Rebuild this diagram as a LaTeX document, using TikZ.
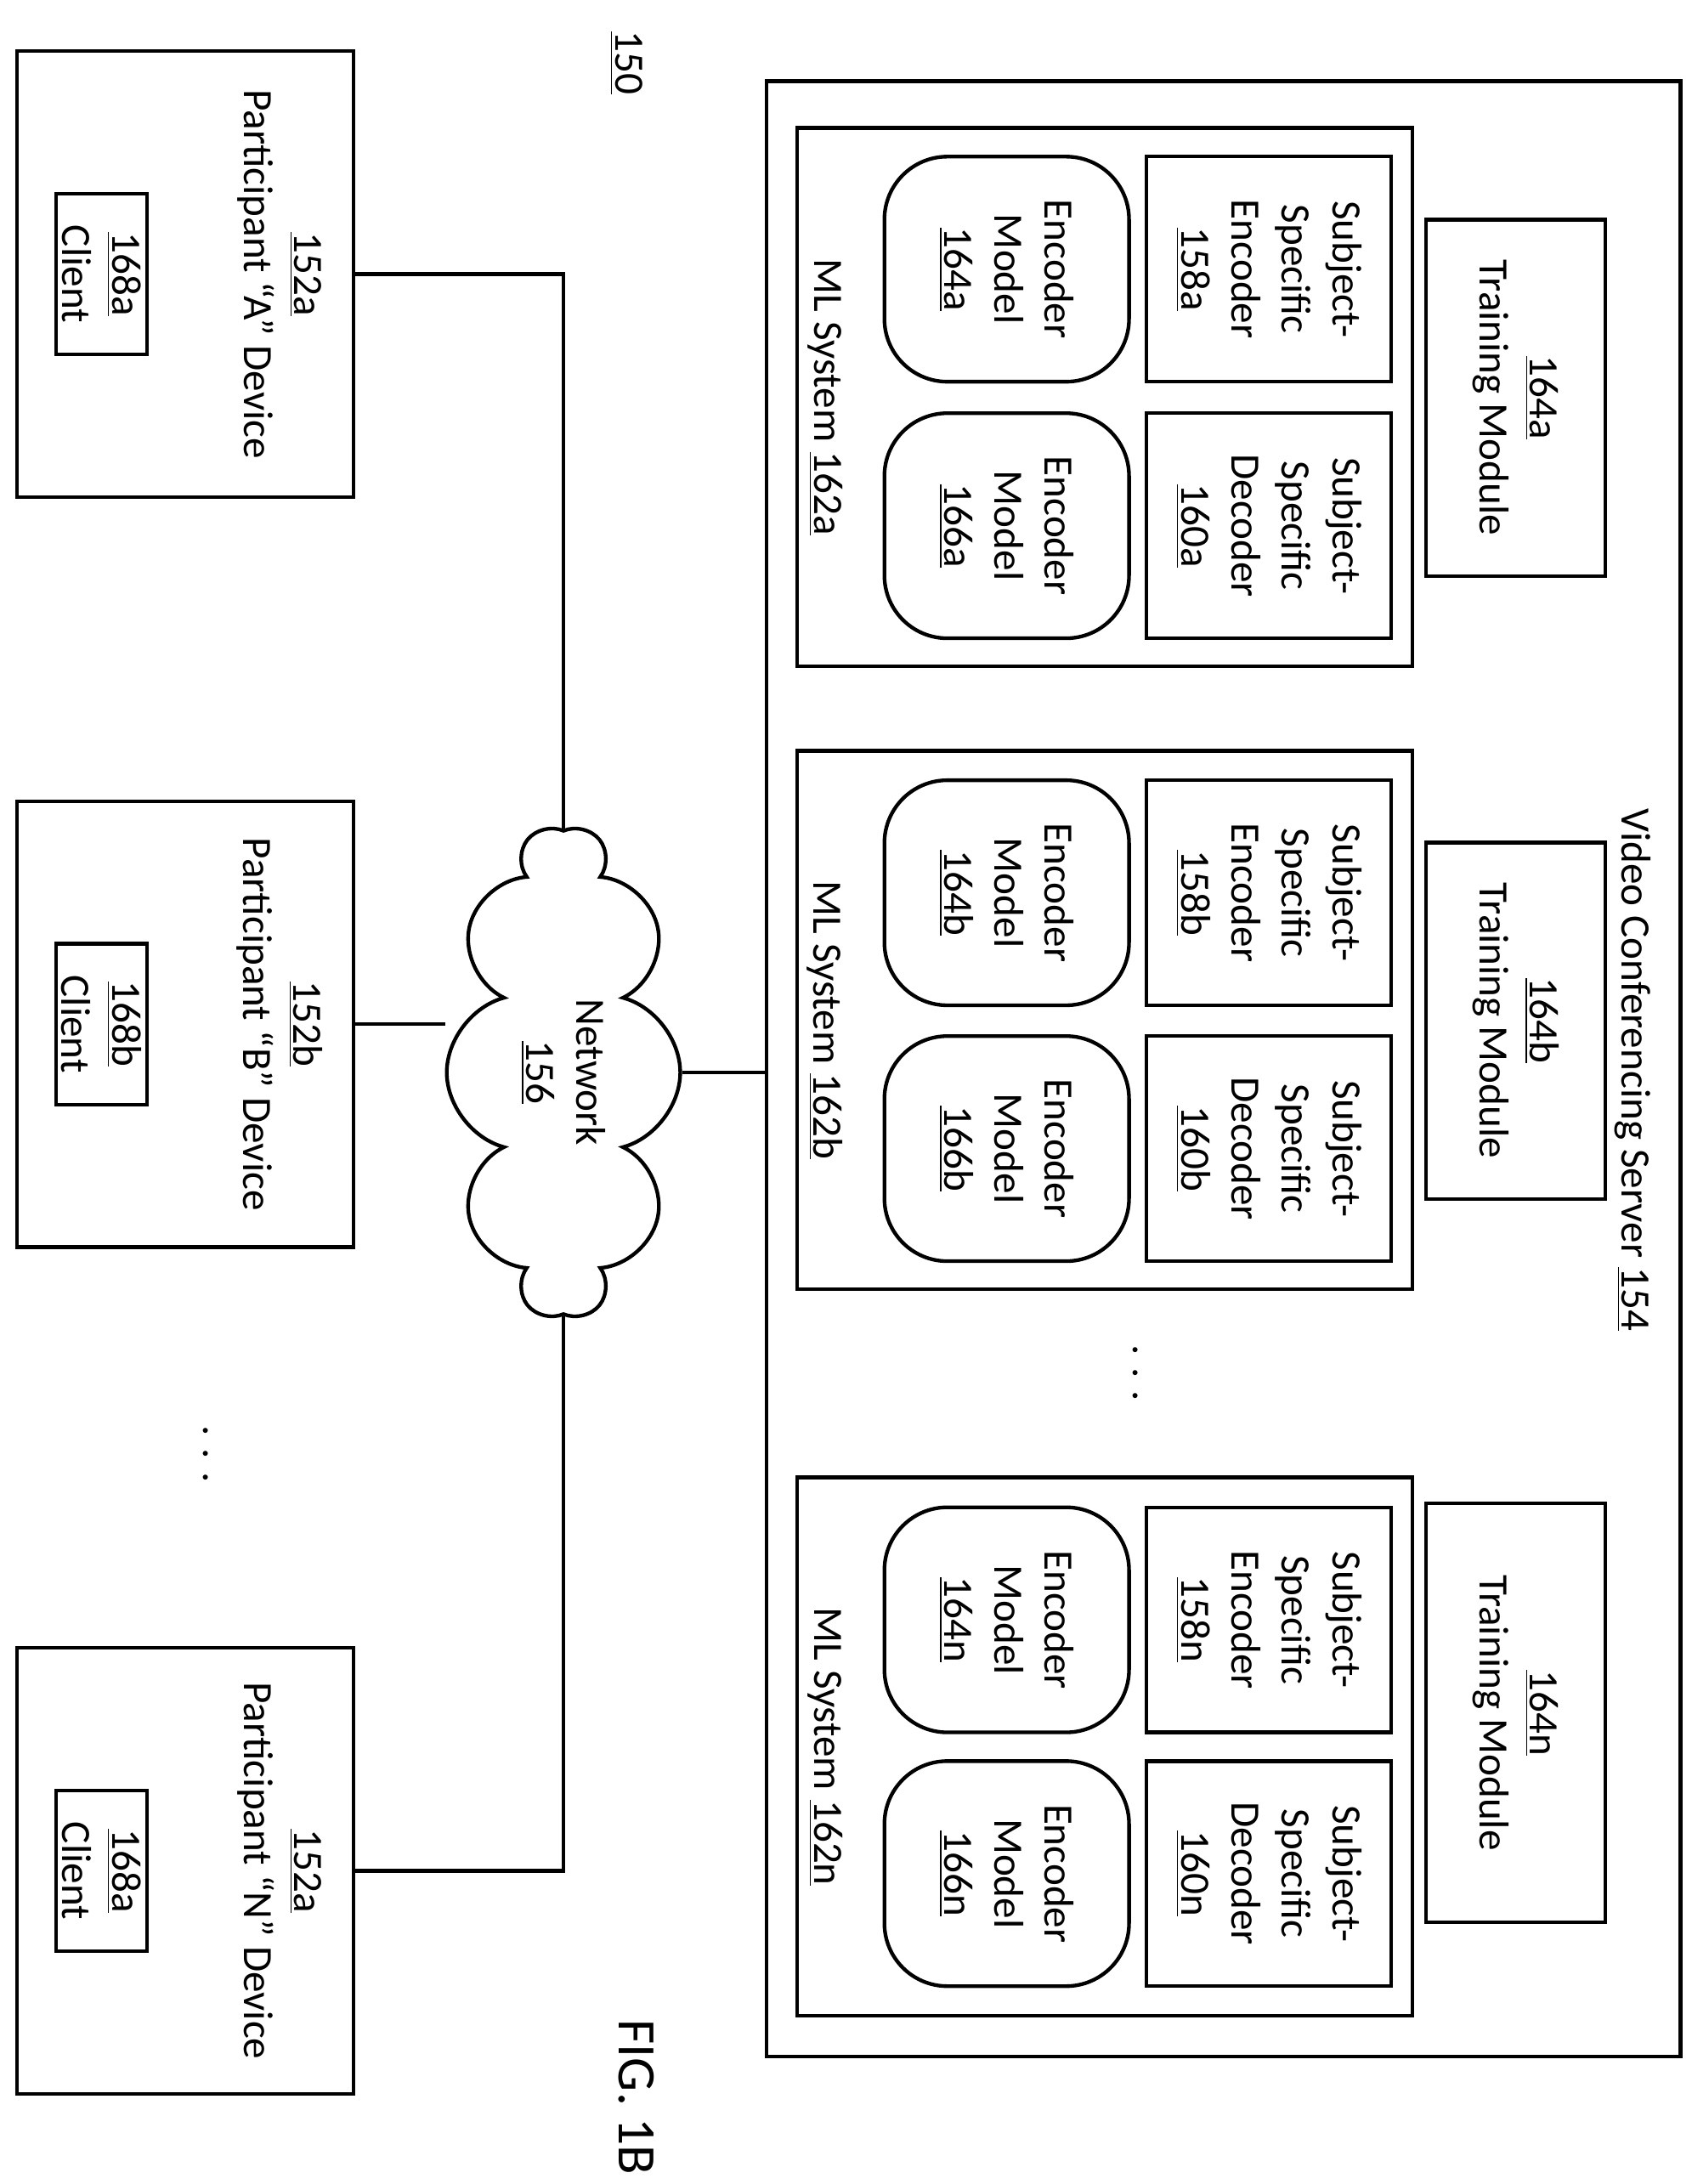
\documentclass[tikz,border=0pt]{standalone}
\usepackage{fontspec}
\setmainfont{Carlito}
\usetikzlibrary{shapes.symbols}
\begin{document}
\begin{tikzpicture}[x=0.02cm,y=-0.02cm,
    every node/.style={rotate=-90,font=\fontsize{17}{20.5}\selectfont},
    box/.style={draw,line width=1.5pt,align=center,inner sep=0pt},
    sq/.style={box,minimum width=3.22cm,minimum height=3.5cm},
    rnd/.style={sq,rounded corners=0.9cm},
    dev/.style={box,minimum width=6.38cm,minimum height=4.82cm}]
    \useasboundingbox (0,0) rectangle (1210,1562);
    % server
    \node[box,minimum width=28.26cm,minimum height=13.08cm] (server) at (875,764.5) {};
    \node at (1168,765) {Video Conferencing Server \underline{154}};
    % ML systems
    \foreach \s/\y/\t/\tw/\e/\d in {a/284/284.5/5.1/192.5/376, b/729.5/730/5.1/638.5/821.5, n/1249/1225/6/1158.5/1340}{
        \node[box,minimum width=7.7cm,minimum height=8.8cm] (ml\s) at (790,\y) {};
        \node at (590,\y) {ML System \underline{162\s}};
        \node[box,minimum width=\tw cm,minimum height=2.56cm] (train\s) at (1084,\t) {\underline{164\s}\\Training Module};
        \node[sq] (enc\s) at (907.5,\e) {Subject-\\Specific\\Encoder\\\underline{158\s}};
        \node[sq] (dec\s) at (907.5,\d) {Subject-\\Specific\\Decoder\\\underline{160\s}};
        \node[rnd] (encm\s) at (720,\e) {Encoder\\Model\\\underline{164\s}};
        \node[rnd] (decm\s) at (720,\d) {Encoder\\Model\\\underline{166\s}};
    }
    \node at (812,982) {. . .};
    % devices
    \foreach \s/\y/\p/\l/\c in {A/196/152a/A/168a, B/732.5/152b/B/168b, N/1338/152a/N/168a}{
        \node[dev] (dev\s) at (132.5,\y) {};
        \node[align=center] at (200,\y) {\underline{\p}\\Participant “\l” Device};
        \node[box,minimum width=2.3cm,minimum height=1.3cm] (cli\s) at (72.5,\y) {\underline{\c}\\Client};
    }
    \node at (147,1040) {. . .};
    % network
    \node[cloud,draw,line width=1.5pt,cloud puffs=10,aspect=2.1,align=center,minimum width=7cm,minimum height=3.34cm,inner sep=0pt] (net) at (403,767) {Network\\\underline{156}};
    \draw[line width=1.5pt] (devA.north) -| (net.west);
    \draw[line width=1.5pt] (devN.north) -| (net.east);
    \draw[line width=1.5pt] (devB.north) -- (devB.north -| net.south);
    \draw[line width=1.5pt] (net.north) -- (net.north -| server.south);
    \node at (448,45) {\underline{150}};
    \node[font=\fontsize{22}{26}\selectfont] at (455,1500) {FIG. 1B};
\end{tikzpicture}
\end{document}
